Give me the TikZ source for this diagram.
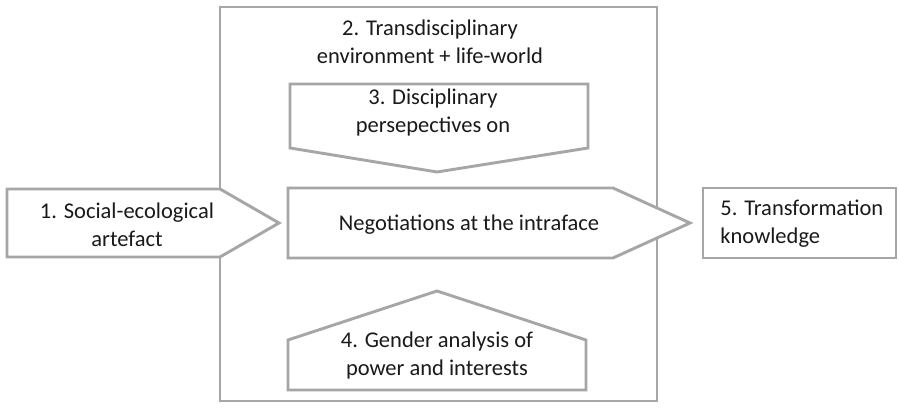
\documentclass[tikz,border=0pt]{standalone}
\usepackage{fontspec}
\setmainfont{Carlito}
\definecolor{frame}{HTML}{A6A6A6}
\definecolor{ink}{HTML}{1A1A1A}

\begin{document}
\begin{tikzpicture}[x=1pt, y=1pt, thick,
        main/.style = {draw=frame, line width=2.9pt, fill=white, line join=miter},
        txt/.style = {align=center, text=ink, inner sep=0pt, font=\fontsize{22.5}{28}\selectfont}]
        \useasboundingbox (0,0) rectangle (899,409);

        % environment frame
        \draw[main] (220,402) rectangle (657,8);
        \node[txt] (env) at (430,367) {2. Transdisciplinary\\environment + life-world};

        % arrow shapes
        \draw[main] (7,220) -- (220,220) -- (279,186) -- (220,152) -- (7,152) -- cycle;
        \draw[main] (288,221) -- (613,221) -- (690,186) -- (613,151) -- (288,151) -- cycle;
        \draw[main] (290,325) -- (588,325) -- (588,261) -- (437,237) -- (290,261) -- cycle;
        \draw[main] (288,19) -- (288,69) -- (437,118) -- (586,69) -- (586,19) -- cycle;
        \draw[main] (703,221) rectangle (896,151);

        \node[txt] (artefact) at (127,184) {1. Social-ecological\\artefact};
        \node[txt] (nego) at (469,184) {Negotiations at the intraface};
        \node[txt] (disc) at (433,296) {3. Disciplinary\\persepectives on};
        \node[txt] (gender) at (437,53) {4. Gender analysis of\\power and interests};
        \node[txt, align=left, anchor=west] (trans) at (720,185) {5. Transformation\\knowledge};

    \end{tikzpicture}
\end{document}
